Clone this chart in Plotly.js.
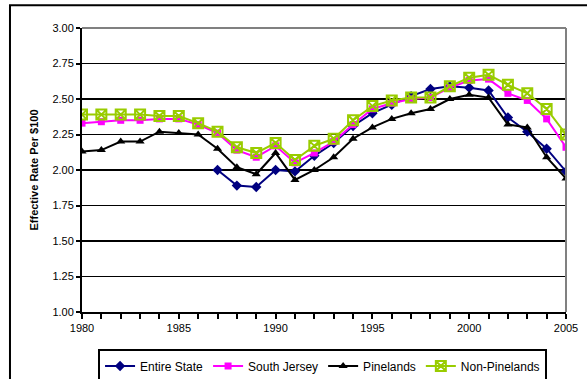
<!DOCTYPE html>
<html>
<head>
<meta charset="utf-8">
<script src="https://cdn.plot.ly/plotly-3.0.1.min.js"></script>
<style>
  html, body { margin: 0; padding: 0; background: #fff; }
  #chart { width: 587px; height: 379px; }
</style>
</head>
<body>
<div id="chart"></div>
<script>
const years = [1980,1981,1982,1983,1984,1985,1986,1987,1988,1989,1990,1991,1992,1993,1994,1995,1996,1997,1998,1999,2000,2001,2002,2003,2004,2005];

const entireState = [null,null,null,null,null,null,null,2.00,1.89,1.88,2.00,1.99,2.10,2.19,2.31,2.40,2.46,2.52,2.57,2.59,2.58,2.56,2.37,2.27,2.15,1.99];
const southJersey = [2.33,2.34,2.35,2.35,2.36,2.36,2.32,2.26,2.14,2.09,2.17,2.05,2.12,2.20,2.32,2.43,2.47,2.50,2.51,2.58,2.63,2.64,2.54,2.49,2.36,2.16];
const pinelands = [2.13,2.14,2.20,2.20,2.27,2.26,2.25,2.15,2.02,1.97,2.12,1.93,2.00,2.09,2.22,2.30,2.36,2.40,2.43,2.50,2.53,2.51,2.32,2.30,2.09,1.94];
const nonPinelands = [2.39,2.39,2.39,2.39,2.38,2.38,2.33,2.27,2.16,2.12,2.19,2.07,2.17,2.22,2.35,2.45,2.49,2.51,2.51,2.59,2.65,2.67,2.60,2.54,2.43,2.25];

const seriesNames = ["Entire State", "South Jersey", "Pinelands", "Non-Pinelands"];
const xTickLabels = years.map(y => (y % 5 === 0 ? String(y) : ""));

const traces = [
  {
    x: years, y: entireState, name: seriesNames[0], type: "scatter", mode: "lines+markers",
    line: { color: "#000080", width: 2 },
    marker: { symbol: "diamond", size: 8, color: "#000080" }
  },
  {
    x: years, y: southJersey, name: seriesNames[1], type: "scatter", mode: "lines+markers",
    line: { color: "#FF00FF", width: 2 },
    marker: { symbol: "square", size: 7, color: "#FF00FF" }
  },
  {
    x: years, y: pinelands, name: seriesNames[2], type: "scatter", mode: "lines+markers",
    line: { color: "#000000", width: 2 },
    marker: { symbol: "triangle-up", size: 8, color: "#000000" }
  },
  {
    x: years, y: nonPinelands, name: seriesNames[3], type: "scatter", mode: "lines+markers",
    line: { color: "#99CC00", width: 2 },
    marker: { symbol: "square-x-open", size: 10, color: "#99CC00", line: { width: 2, color: "#99CC00" } }
  }
];

const layout = {
  width: 587, height: 379,
  margin: { l: 82, r: 21, t: 28, b: 67, autoexpand: false },
  paper_bgcolor: "#ffffff",
  plot_bgcolor: "#ffffff",
  font: { family: "'Liberation Sans', Arial, sans-serif", color: "#000", size: 11 },
  showlegend: true,
  xaxis: {
    range: [1980, 2005],
    tickvals: years,
    ticktext: xTickLabels,
    ticks: "outside", ticklen: 5, tickwidth: 2, tickcolor: "#000",
    showline: true, linecolor: "#000", linewidth: 2,
    showgrid: false, zeroline: false,
    tickfont: { size: 11 }
  },
  yaxis: {
    range: [1, 3],
    dtick: 0.25, tick0: 1,
    tickformat: ".2f",
    ticks: "outside", ticklen: 4, tickwidth: 2, tickcolor: "#000",
    showline: true, linecolor: "#000", linewidth: 2,
    showgrid: true, gridcolor: "#000", gridwidth: 1.5,
    zeroline: false,
    tickfont: { size: 11 },
    title: { text: "<b>Effective Rate Per $100</b>", font: { size: 11 }, standoff: 12 }
  },
  legend: {
    orientation: "h",
    x: 0.497, xanchor: "center",
    y: -0.132, yanchor: "top",
    bordercolor: "#000", borderwidth: 2,
    font: { size: 12 },
    itemwidth: 30,
    tracegroupgap: 0
  },
  shapes: [
    { type: "line", xref: "paper", yref: "paper", x0: 0, x1: 1, y0: 1, y1: 1, line: { color: "#808080", width: 2 } },
    { type: "line", xref: "paper", yref: "paper", x0: 1, x1: 1, y0: 0, y1: 1, line: { color: "#808080", width: 2 } },
    { type: "rect", xref: "paper", yref: "paper", x0: -0.1488, x1: 1.06, y0: -0.27, y1: 1.08, line: { color: "#000", width: 2 } }
  ]
};

Plotly.newPlot("chart", traces, layout, { displayModeBar: false, staticPlot: true });
</script>
</body>
</html>
